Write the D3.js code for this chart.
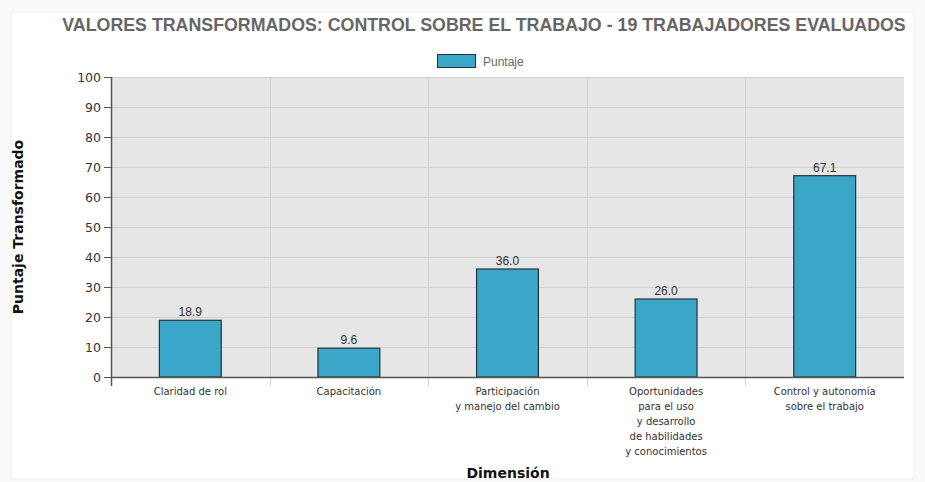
<!DOCTYPE html>
<html><head><meta charset="utf-8">
<script src="https://cdn.jsdelivr.net/npm/d3@7"></script>
<style>
html,body{margin:0;padding:0;background:#fff;}
svg{display:block;}
</style></head>
<body>
<svg id="chart" width="925" height="482"></svg>
<script>
const categories = [
  ["Claridad de rol"],
  ["Capacitación"],
  ["Participación","y manejo del cambio"],
  ["Oportunidades","para el uso","y desarrollo","de habilidades","y conocimientos"],
  ["Control y autonomía","sobre el trabajo"]
];
const values = [18.9, 9.6, 36.0, 26.0, 67.1];
const yTicks = [0,10,20,30,40,50,60,70,80,90,100];
const titleText = "VALORES TRANSFORMADOS: CONTROL SOBRE EL TRABAJO - 19 TRABAJADORES EVALUADOS";
const seriesName = "Puntaje";
const yTitle = "Puntaje Transformado";
const xTitle = "Dimensión";

const svg = d3.select("#chart");
const W = 925, H = 482;
const m = {left:111, right:21, top:77, bottom:105};
const pw = W - m.left - m.right, ph = H - m.top - m.bottom;

// outer frame
svg.append("rect").attr("x",0).attr("y",0).attr("width",W).attr("height",H).attr("fill","#fafafa");
svg.append("rect").attr("x",11).attr("y",12).attr("width",W-22).attr("height",H-15)
  .attr("fill","#fff").attr("stroke","#eeeeee");

const x = d3.scaleBand().domain(d3.range(categories.length)).range([m.left, m.left+pw]).paddingInner(0).paddingOuter(0);
const y = d3.scaleLinear().domain([0,100]).range([m.top+ph, m.top]);

// plot background
svg.append("rect").attr("x",m.left).attr("y",m.top).attr("width",pw).attr("height",ph).attr("fill","#e6e6e6");

// horizontal grid
svg.append("g").selectAll("line").data(yTicks.filter(d=>d>0)).join("line")
  .attr("x1",m.left).attr("x2",m.left+pw).attr("y1",d=>y(d)+0.5).attr("y2",d=>y(d)+0.5)
  .attr("stroke","#d2d2d2").attr("stroke-width",1);

// vertical band lines
const bounds = d3.range(1,categories.length).map(i=>x(i));
svg.append("g").selectAll("line").data(bounds).join("line")
  .attr("x1",d=>Math.round(d)+0.5).attr("x2",d=>Math.round(d)+0.5)
  .attr("y1",m.top).attr("y2",m.top+ph+9)
  .attr("stroke","#d2d2d2").attr("stroke-width",1);

// bars
const bw = x.bandwidth()*0.39;
svg.append("g").selectAll("rect").data(values).join("rect")
  .attr("x",(d,i)=>x(i)+x.bandwidth()/2-bw/2)
  .attr("y",d=>y(d))
  .attr("width",bw).attr("height",d=>y(0)-y(d))
  .attr("fill","#3aa6c8").attr("stroke","#26323a").attr("stroke-width",1.2);

// value labels
svg.append("g").selectAll("text").data(values).join("text")
  .attr("x",(d,i)=>x(i)+x.bandwidth()/2)
  .attr("y",d=>y(d)-4)
  .attr("text-anchor","middle")
  .attr("font-family","Liberation Sans, Arial, sans-serif").attr("font-size",12)
  .attr("fill","#333").text(d=>d.toFixed(1));

// y axis
const yAxis = d3.axisLeft(y).tickValues(yTicks).tickSize(7).tickPadding(3);
const gy = svg.append("g").attr("transform",`translate(${m.left},0)`).call(yAxis);
gy.select(".domain").remove();
gy.selectAll(".tick line").attr("stroke","#555");
gy.selectAll(".tick text").attr("font-family","DejaVu Sans, Verdana, sans-serif").attr("font-size",12.5).attr("fill","#333");
svg.append("line").attr("x1",m.left+0.5).attr("x2",m.left+0.5).attr("y1",m.top).attr("y2",m.top+ph+9)
  .attr("stroke","#555").attr("stroke-width",1.5);

// x axis line
svg.append("line").attr("x1",m.left).attr("x2",m.left+pw).attr("y1",y(0)+0.5).attr("y2",y(0)+0.5)
  .attr("stroke","#555").attr("stroke-width",1.5);

// category labels
const cl = svg.append("g").selectAll("text").data(categories).join("text")
  .attr("x",(d,i)=>x(i)+x.bandwidth()/2)
  .attr("y",m.top+ph+18)
  .attr("text-anchor","middle")
  .attr("font-family","DejaVu Sans, Verdana, sans-serif").attr("font-size",10).attr("fill","#333");
cl.each(function(d){
  const t = d3.select(this);
  d.forEach((line,j)=>{
    t.append("tspan").attr("x",t.attr("x")).attr("dy", j===0?0:15).text(line);
  });
});

// title
svg.append("text").attr("x",484).attr("y",31).attr("text-anchor","middle")
  .attr("font-family","Liberation Sans, Arial, sans-serif").attr("font-weight","bold").attr("font-size",17.8)
  .attr("fill","#666").text(titleText);

// legend
svg.append("rect").attr("x",437.5).attr("y",54.5).attr("width",38).attr("height",13)
  .attr("fill","#3aa6c8").attr("stroke","#26323a").attr("stroke-width",1);
svg.append("text").attr("x",483).attr("y",65.5)
  .attr("font-family","Liberation Sans, Arial, sans-serif").attr("font-size",12).attr("fill","#666").text(seriesName);

// axis titles
svg.append("text").attr("transform","translate(23,227) rotate(-90)").attr("text-anchor","middle")
  .attr("font-family","DejaVu Sans, Verdana, sans-serif").attr("font-weight","bold").attr("font-size",14)
  .attr("fill","#111").text(yTitle);
svg.append("text").attr("x",508).attr("y",478).attr("text-anchor","middle")
  .attr("font-family","DejaVu Sans, Verdana, sans-serif").attr("font-weight","bold").attr("font-size",14)
  .attr("fill","#111").text(xTitle);
</script>
</body></html>
